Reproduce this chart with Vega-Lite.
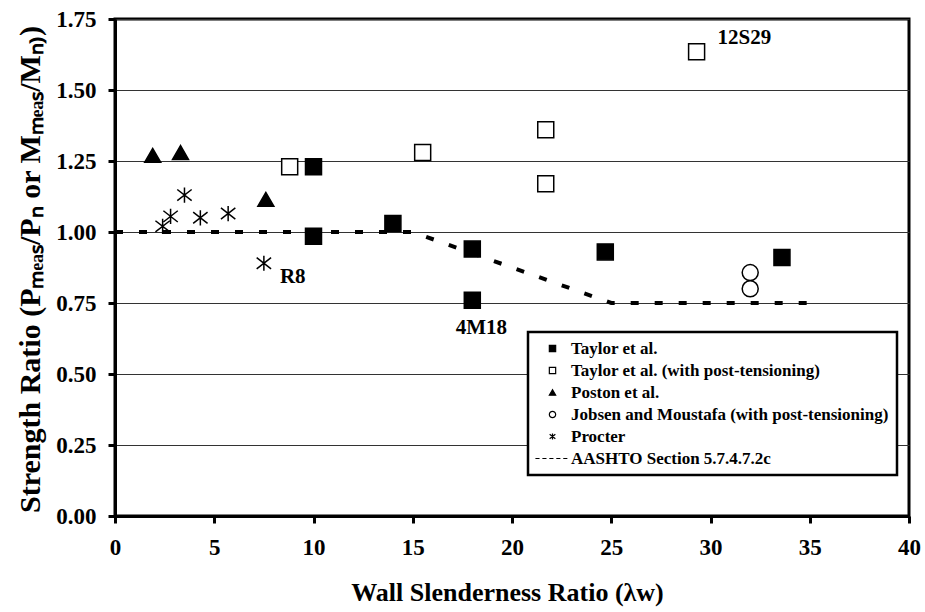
{
  "$schema": "https://vega.github.io/schema/vega-lite/v6.json",
  "width": 794,
  "height": 497,
  "autosize": {"type": "none"},
  "padding": {"left": 115, "top": 19, "right": 16, "bottom": 96},
  "background": "white",
  "config": {
    "font": "Liberation Serif",
    "view": {"stroke": "black", "strokeWidth": 3},
    "axis": {
      "labelFont": "Liberation Serif", "labelFontWeight": "bold", "labelColor": "black",
      "titleFont": "Liberation Serif", "titleFontWeight": "bold", "titleColor": "black",
      "domainColor": "black", "domainWidth": 3, "tickColor": "black", "tickWidth": 3, "tickSize": 7
    },
    "legend": {
      "orient": "none", "legendX": 413, "legendY": 313,
      "padding": 8, "strokeColor": "black", "strokeWidth": 2.5, "fillColor": "white",
      "symbolSize": 40, "symbolOffset": 8, "labelOffset": 10,
      "labelFont": "Liberation Serif", "labelFontWeight": "bold", "labelFontSize": 17,
      "labelColor": "black", "labelLimit": 0, "rowPadding": 4,
      "symbolStrokeWidth": 1.2, "symbolStrokeColor": "black"
    }
  },
  "datasets": {
    "points": [
      {"series": "Taylor et al.", "lambda": 10, "ratio": 1.23},
      {"series": "Taylor et al.", "lambda": 10, "ratio": 0.985},
      {"series": "Taylor et al.", "lambda": 14, "ratio": 1.03},
      {"series": "Taylor et al.", "lambda": 18, "ratio": 0.94},
      {"series": "Taylor et al.", "lambda": 18, "ratio": 0.76, "label": "4M18"},
      {"series": "Taylor et al.", "lambda": 24.7, "ratio": 0.93},
      {"series": "Taylor et al.", "lambda": 33.6, "ratio": 0.91},
      {"series": "Taylor et al. (with post-tensioning)", "lambda": 8.8, "ratio": 1.23},
      {"series": "Taylor et al. (with post-tensioning)", "lambda": 15.5, "ratio": 1.28},
      {"series": "Taylor et al. (with post-tensioning)", "lambda": 21.7, "ratio": 1.36},
      {"series": "Taylor et al. (with post-tensioning)", "lambda": 21.7, "ratio": 1.17},
      {"series": "Taylor et al. (with post-tensioning)", "lambda": 29.3, "ratio": 1.635, "label": "12S29"},
      {"series": "Poston et al.", "lambda": 1.9, "ratio": 1.27},
      {"series": "Poston et al.", "lambda": 3.3, "ratio": 1.28},
      {"series": "Poston et al.", "lambda": 7.6, "ratio": 1.115},
      {"series": "Jobsen and Moustafa (with post-tensioning)", "lambda": 32.0, "ratio": 0.857},
      {"series": "Jobsen and Moustafa (with post-tensioning)", "lambda": 32.0, "ratio": 0.80},
      {"series": "Procter", "lambda": 2.4, "ratio": 1.02},
      {"series": "Procter", "lambda": 2.8, "ratio": 1.055},
      {"series": "Procter", "lambda": 3.5, "ratio": 1.13},
      {"series": "Procter", "lambda": 4.3, "ratio": 1.05},
      {"series": "Procter", "lambda": 5.7, "ratio": 1.065},
      {"series": "Procter", "lambda": 7.5, "ratio": 0.89, "label": "R8"}
    ],
    "aashto": [
      {"lambda": 0, "ratio": 1.0},
      {"lambda": 15, "ratio": 1.0},
      {"lambda": 25, "ratio": 0.75},
      {"lambda": 35, "ratio": 0.75}
    ]
  },
  "encoding": {
    "x": {
      "field": "lambda", "type": "quantitative",
      "scale": {"domain": [0, 40], "nice": false},
      "axis": {
        "title": "Wall Slenderness Ratio (λw)",
        "values": [0, 5, 10, 15, 20, 25, 30, 35, 40],
        "grid": false, "labelFontSize": 23, "labelPadding": 13,
        "labelFlush": false, "labelOverlap": false,
        "titleFontSize": 26, "titleX": 392, "titleY": 84, "titleBaseline": "alphabetic"
      }
    },
    "y": {
      "field": "ratio", "type": "quantitative",
      "scale": {"domain": [0, 1.75], "nice": false},
      "axis": {
        "title": "Strength Ratio (Pₘₑₐₛ/Pₙ or Mₘₑₐₛ/Mₙ₎)",
        "values": [0, 0.25, 0.5, 0.75, 1.0, 1.25, 1.5, 1.75],
        "format": ".2f",
        "grid": true, "gridColor": "#333333", "gridWidth": 1,
        "labelFontSize": 23, "labelPadding": 12, "labelFlush": false, "labelOverlap": false,
        "titleFontSize": 30, "titleX": -85, "titleY": 250, "titleAngle": -90,
        "titleBaseline": "middle", "titleAlign": "center"
      }
    }
  },
  "layer": [
    {
      "data": {"name": "aashto"},
      "mark": {"type": "line", "stroke": "black", "strokeWidth": 4, "strokeDash": [8, 16]}
    },
    {
      "data": {"name": "points"},
      "mark": {"type": "point", "size": 256, "strokeWidth": 1.5, "opacity": 1},
      "encoding": {
        "shape": {
          "field": "series", "type": "nominal",
          "scale": {
            "domain": ["Taylor et al.", "Taylor et al. (with post-tensioning)", "Poston et al.", "Jobsen and Moustafa (with post-tensioning)", "Procter", "AASHTO Section 5.7.4.7.2c"],
            "range": ["square", "square", "triangle-up", "circle", "M-0.9,-0.7L0.9,0.7M-0.9,0.7L0.9,-0.7M0,-0.95L0,0.95", "M-5.4,0H-4.1M-3.2,0H-1.9M-1,0H0.3M1.2,0H2.5M3.4,0H4.7"]
          },
          "legend": {"title": null}
        },
        "fill": {
          "field": "series", "type": "nominal",
          "scale": {
            "domain": ["Taylor et al.", "Taylor et al. (with post-tensioning)", "Poston et al.", "Jobsen and Moustafa (with post-tensioning)", "Procter", "AASHTO Section 5.7.4.7.2c"],
            "range": ["black", "white", "black", "white", "transparent", "transparent"]
          },
          "legend": {"title": null}
        },
        "stroke": {
          "field": "series", "type": "nominal",
          "scale": {
            "domain": ["Taylor et al.", "Taylor et al. (with post-tensioning)", "Poston et al.", "Jobsen and Moustafa (with post-tensioning)", "Procter", "AASHTO Section 5.7.4.7.2c"],
            "range": ["black", "black", "black", "black", "black", "black"]
          },
          "legend": {"title": null}
        }
      }
    },
    {
      "data": {"name": "points"},
      "transform": [{"filter": "datum.label == 'R8'"}],
      "mark": {"type": "text", "font": "Liberation Serif", "fontWeight": "bold", "fontSize": 21, "color": "black", "align": "left", "baseline": "middle", "dx": 16, "dy": 14},
      "encoding": {"text": {"field": "label"}}
    },
    {
      "data": {"name": "points"},
      "transform": [{"filter": "datum.label == '4M18'"}],
      "mark": {"type": "text", "font": "Liberation Serif", "fontWeight": "bold", "fontSize": 21, "color": "black", "align": "center", "baseline": "middle", "dx": 9, "dy": 28},
      "encoding": {"text": {"field": "label"}}
    },
    {
      "data": {"name": "points"},
      "transform": [{"filter": "datum.label == '12S29'"}],
      "mark": {"type": "text", "font": "Liberation Serif", "fontWeight": "bold", "fontSize": 21, "color": "black", "align": "left", "baseline": "middle", "dx": 21, "dy": -14},
      "encoding": {"text": {"field": "label"}}
    }
  ]
}
